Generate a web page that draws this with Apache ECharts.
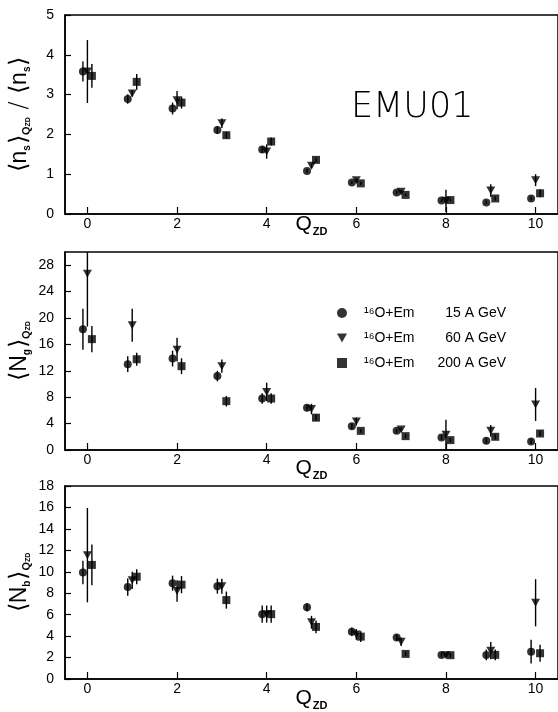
<!DOCTYPE html>
<html>
<head>
<meta charset="utf-8">
<script src="https://cdn.jsdelivr.net/npm/echarts@6/dist/echarts.min.js"></script>
<style>
html,body{margin:0;padding:0;background:#fff;}
#chart{width:558px;height:712px;}
</style>
</head>
<body>
<div id="chart"></div>
<script>
// Q_ZD categories and tick values
var qzd = [0,1,2,3,4,5,6,7,8,9,10];
var xTicks = [0,2,4,6,8,10];
var names = ['15 A GeV','60 A GeV','200 A GeV'];

// <n_s>_QZD / <n_s>
var ns15 = [3.58,2.89,2.65,2.11,1.62,1.08,0.79,0.54,0.34,0.29,0.39];
var ns15Err = [0.25,0.12,0.15,0.1,0.08,0.05,0.04,0.04,0.04,0.04,0.05];
var ns60 = [3.58,3.03,2.86,2.28,1.57,1.21,0.85,0.56,0.33,0.59,0.85];
var ns60Err = [0.79,0.08,0.23,0.12,0.18,0.06,0.05,0.04,0.28,0.16,0.15];
var ns200 = [3.47,3.32,2.8,1.98,1.82,1.36,0.77,0.48,0.35,0.39,0.52];
var ns200Err = [0.3,0.2,0.15,0.08,0.1,0.06,0.04,0.03,0.03,0.05,0.1];
var nsTicks = [0,1,2,3,4,5];

// <N_g>_QZD
var ng15 = [18.3,13.0,13.85,11.2,7.8,6.4,3.6,2.9,1.9,1.4,1.3];
var ng15Err = [3.1,1.2,1.2,0.8,0.8,0.5,0.4,0.3,0.4,0.4,0.4];
var ng60 = [26.7,18.9,15.2,12.7,8.8,6.2,4.3,3.1,2.3,2.9,6.9];
var ng60Err = [8,2.5,1.8,1.0,1.4,0.8,0.6,0.3,2.3,0.9,2.5];
var ng200 = [16.8,13.75,12.7,7.4,7.8,4.9,2.9,2.1,1.5,2.0,2.5];
var ng200Err = [2,1,1.2,0.8,0.8,0.5,0.3,0.3,0.3,0.4,0.4];
var ngTicks = [0,4,8,12,16,20,24,28];

// <N_b>_QZD
var nb15 = [9.94,8.57,8.94,8.66,6.05,6.69,4.41,3.86,2.25,2.25,2.55];
var nb15Err = [1.1,0.8,0.7,0.7,0.8,0.4,0.4,0.3,0.2,0.5,1.1];
var nb60 = [11.55,9.2,8.2,8.66,6.05,5.29,4.16,3.47,2.22,2.64,7.11];
var nb60Err = [4.4,0.8,1.0,0.7,0.8,0.6,0.5,0.4,0.2,0.8,2.2];
var nb200 = [10.64,9.54,8.8,7.36,6.05,4.86,3.95,2.34,2.22,2.25,2.4];
var nb200Err = [1.9,0.7,0.8,0.8,0.8,0.6,0.5,0.2,0.2,0.5,0.8];
var nbTicks = [0,2,4,6,8,10,12,14,16,18];

var FONT = 'Liberation Sans';
var shifts = [-0.1, 0, 0.1];
var symbols = ['circle', 'path://M0,0 L10,0 L5,9 Z', 'rect'];
var symSizes = [8, [9,8], 8];

var panels = [
	{top:15, height:199, max:5, ticks:nsTicks, vals:[ns15,ns60,ns200], errs:[ns15Err,ns60Err,ns200Err], qGap:0,
	 name:'{b|⟨}{t|n}{s|s}{b|⟩}{q|Q}{z|ZD}{b| / }{b|⟨}{t|n}{s|s}{b|⟩}'},
	{top:252, height:198, max:30, ticks:ngTicks, vals:[ng15,ng60,ng200], errs:[ng15Err,ng60Err,ng200Err], qGap:8,
	 name:'{b|⟨}{t|N}{s|g}{b|⟩}{q|Q}{z|ZD}'},
	{top:486, height:198, max:18, ticks:nbTicks, vals:[nb15,nb60,nb200], errs:[nb15Err,nb60Err,nb200Err], qGap:9,
	 name:'{b|⟨}{t|N}{s|b}{b|⟩}{q|Q}{z|ZD}'}
];

var grids = [], xAxes = [], yAxes = [], series = [];
for(var p=0;p<panels.length;p++){
	var P = panels[p];
	grids.push({left:62, top:P.top, width:497, height:P.height, show:true, borderColor:'#000', borderWidth:1.5, backgroundColor:'transparent'});
	xAxes.push({
		gridIndex:p, type:'value', min:-0.5, max:10.5,
		name:'{q|Q}{z|ZD}', nameLocation:'middle', nameGap:P.qGap, nameMoveOverlap:false,
		nameTextStyle:{rich:{q:{fontFamily:FONT,fontSize:21,color:'#000',verticalAlign:'top'},z:{fontFamily:FONT,fontSize:11,fontWeight:'bold',color:'#000',padding:[12,0,0,1]}}},
		axisLine:{onZero:false,lineStyle:{color:'#000',width:1.5}},
		axisTick:{inside:true,length:7,customValues:xTicks,lineStyle:{color:'#000',width:1.2}},
		axisLabel:{customValues:xTicks,margin:3,fontFamily:FONT,fontSize:14,color:'#000'},
		splitLine:{show:false}
	});
	yAxes.push({
		gridIndex:p, type:'value', min:0, max:P.max,
		name:P.name, nameLocation:'middle', nameGap:33, nameRotate:90, nameMoveOverlap:false,
		nameTextStyle:{rich:{
			b:{fontFamily:'DejaVu Sans',fontSize:24,color:'#000',fontWeight:200},
			t:{fontFamily:FONT,fontSize:23,color:'#000'},
			s:{fontFamily:FONT,fontSize:10,fontWeight:'bold',color:'#000',verticalAlign:'bottom',padding:[0,1,0,0]},
			q:{fontFamily:FONT,fontSize:11,fontWeight:'bold',color:'#000',verticalAlign:'bottom'},
			z:{fontFamily:FONT,fontSize:7,fontWeight:'bold',color:'#000',verticalAlign:'bottom'}
		}},
		axisLine:{onZero:false,lineStyle:{color:'#000',width:1.5}},
		axisTick:{inside:true,length:6,customValues:P.ticks,lineStyle:{color:'#000',width:1.2}},
		axisLabel:{customValues:P.ticks,margin:11,fontFamily:FONT,fontSize:14,color:'#000'},
		splitLine:{show:false}
	});
	for(var k=0;k<3;k++){
		var pts = [], bars = [];
		for(var i=0;i<qzd.length;i++){
			pts.push([qzd[i]+shifts[k], P.vals[k][i]]);
			bars.push([qzd[i]+shifts[k], P.vals[k][i], P.errs[k][i]]);
		}
		series.push({
			type:'custom', xAxisIndex:p, yAxisIndex:p, clip:true, silent:true,
			renderItem:function(params, api){
				var lo = api.coord([api.value(0), api.value(1)-api.value(2)]);
				var hi = api.coord([api.value(0), api.value(1)+api.value(2)]);
				return {type:'line', shape:{x1:lo[0],y1:lo[1],x2:hi[0],y2:hi[1]}, style:{stroke:'#000',lineWidth:1.4}};
			},
			data:bars, z:2
		});
		series.push({
			name:names[k], type:'scatter', xAxisIndex:p, yAxisIndex:p,
			symbol:symbols[k], symbolSize:symSizes[k],
			itemStyle:{color:'#000'}, data:pts, z:3
		});
	}
}

var chart = echarts.init(document.getElementById('chart'));
chart.setOption({
	animation:false,
	backgroundColor:'#fff',
	title:{text:'EMU01', left:346, top:85, textStyle:{fontFamily:'DejaVu Sans',fontWeight:200,fontSize:35,color:'#000'}},
	legend:{
		data:names, orient:'vertical', left:332, top:301, itemGap:11, itemWidth:10, itemHeight:10,
		selectedMode:false,
		formatter:function(n){ return '{a|¹⁶O+Em}{b|' + n + '}'; },
		textStyle:{fontFamily:FONT,fontSize:14,color:'#000',rich:{
			a:{fontFamily:FONT,fontSize:14,color:'#000',width:68,padding:[0,0,0,12]},
			b:{fontFamily:FONT,fontSize:14,color:'#000',width:74,align:'right'}
		}}
	},
	grid:grids, xAxis:xAxes, yAxis:yAxes, series:series
});
</script>
</body>
</html>
